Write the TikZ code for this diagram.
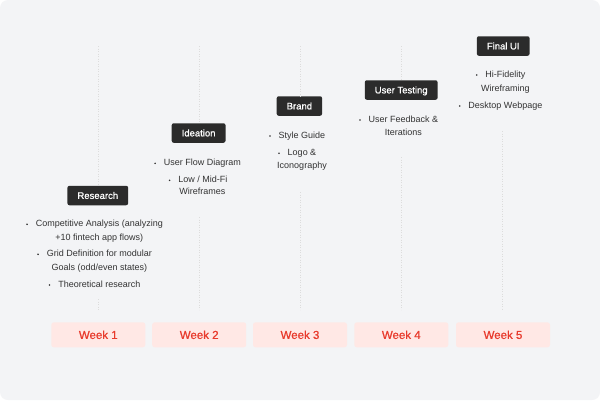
\documentclass[tikz,border=0pt]{standalone}
\usepackage{fontspec}
\setmainfont{Liberation Sans}
\newfontfamily\mediumfont{Liberation Sans}[FakeBold=0.9]
\usetikzlibrary{calc}
\definecolor{bg}{HTML}{F3F4F6}
\definecolor{labelfill}{HTML}{2B2B2B}
\definecolor{weekfill}{HTML}{FFE8E5}
\definecolor{weektext}{HTML}{E83A2C}
\definecolor{itemtext}{HTML}{333333}
\definecolor{dashc}{HTML}{DCDCDC}
\tikzset{
 phase/.style={fill=labelfill, text=white, rounded corners=2pt, inner xsep=10pt, inner ysep=0pt,
   minimum height=19.5pt, font=\fontsize{9.5}{10}\mediumfont, text height=6.8pt, text depth=0pt},
 week/.style={fill=weekfill, text=weektext, rounded corners=2.5pt, minimum width=94pt,
   minimum height=25pt, inner sep=0pt, font=\fontsize{11.5}{12}\mediumfont},
 item/.style={text=itemtext, inner sep=0pt, font=\fontsize{9}{10}\selectfont, text height=6.5pt, text depth=1.8pt},
 guide/.style={draw=dashc, line width=0.8pt, dash pattern=on 1.2pt off 1.3pt},
 bul/.style={fill=itemtext}
}
\begin{document}
\begin{tikzpicture}[x=1pt,y=-1pt]
\useasboundingbox (0,0) rectangle (600,400);
\fill[white] (0,0) rectangle (600,400);
\fill[bg, rounded corners=8pt] (0,0) rectangle (600,400);

% phase labels
\node[phase] (p1) at (97.8,195.5) {Research};
\node[phase] (p2) at (198.6,133) {Ideation};
\node[phase] (p3) at (299.4,106) {Brand};
\node[phase] (p4) at (401.2,90) {User Testing};
\node[phase] (p5) at (503.2,46) {Final UI};

% weeks
\node[week] (w1) at (98.3,334.8) {Week 1};
\node[week] (w2) at (199.2,334.8) {Week 2};
\node[week] (w3) at (300,334.8) {Week 3};
\node[week] (w4) at (401.3,334.8) {Week 4};
\node[week] (w5) at (503,334.8) {Week 5};

% items column 1
\node[item] (c1a) at (99.3,224.3) {Competitive Analysis (analyzing};
\node[item] (c1b) at (99.3,238) {+10 fintech app flows)};
\node[item] (c1c) at (99.3,254.3) {Grid Definition for modular};
\node[item] (c1d) at (99.3,268) {Goals (odd/even states)};
\node[item] (c1e) at (99.3,285) {Theoretical research};
% column 2
\node[item] (c2a) at (202.3,163.3) {User Flow Diagram};
\node[item] (c2b) at (202.8,180.3) {Low / Mid-Fi};
\node[item] (c2c) at (202.3,192.5) {Wireframes};
% column 3
\node[item] (c3a) at (302,136) {Style Guide};
\node[item] (c3b) at (302,153.3) {Logo \&};
\node[item] (c3c) at (302,165.7) {Iconography};
% column 4
\node[item] (c4a) at (403.4,120) {User Feedback \&};
\node[item] (c4b) at (403.4,132.7) {Iterations};
% column 5
\node[item] (c5a) at (505.4,75) {Hi-Fidelity};
\node[item] (c5b) at (505.4,89) {Wireframing};
\node[item] (c5c) at (505.4,106) {Desktop Webpage};

% bullets
\foreach \n in {c1a,c1c,c1e,c2a,c2b,c3a,c3b,c4a,c5a,c5c}
  \fill[bul] ($(\n.west)+(-8.5,0)$) circle (0.9pt);

% guide lines
\coordinate (t1) at (98,46);
\coordinate (t2) at (199.4,46);
\coordinate (t3) at (300.2,46);
\coordinate (t4) at (401.2,46);
\coordinate (b1) at (98,299);
\coordinate (b2) at (199.4,217);
\coordinate (b3) at (300.2,192);
\coordinate (b4) at (401.2,157);
\coordinate (b5) at (502.4,131);
\coordinate (e1) at (98,309.5);
\coordinate (e2) at (199.4,309.5);
\coordinate (e3) at (300.2,309.5);
\coordinate (e4) at (401.2,309.5);
\coordinate (e5) at (502.4,309.5);
\draw[guide] (t1) -- (t1 |- p1.north);
\draw[guide] (t2) -- (t2 |- p2.north);
\draw[guide] (t3) -- (t3 |- p3.north);
\draw[guide] (t4) -- (t4 |- p4.north);
\draw[guide] (b1) -- (e1);
\draw[guide] (b2) -- (e2);
\draw[guide] (b3) -- (e3);
\draw[guide] (b4) -- (e4);
\draw[guide] (b5) -- (e5);
\end{tikzpicture}
\end{document}
